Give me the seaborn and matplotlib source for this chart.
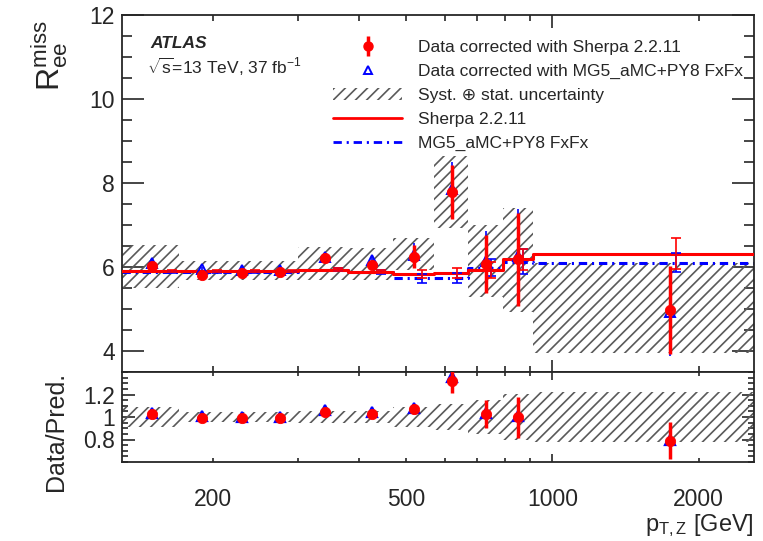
import numpy as np
import matplotlib
matplotlib.use("Agg")
import matplotlib.pyplot as plt
import seaborn as sns
from matplotlib.lines import Line2D
from matplotlib.patches import Patch
from matplotlib.ticker import FixedLocator, FixedFormatter, MultipleLocator, NullFormatter

# ---------------- data ----------------
bin_edges = [130, 170, 210, 250, 300, 380, 470, 570, 670, 790, 910, 2600]
x_data = [150, 190, 230, 275, 340, 425, 520, 620, 730, 850, 1750]
x_mc = [165, 204, 244, 291, 362, 444, 538, 636, 748, 869, 1800]

data_sherpa = [6.03, 5.81, 5.85, 5.87, 6.21, 6.05, 6.25, 7.79, 6.07, 6.18, 4.97]
data_sherpa_err = [0.08, 0.06, 0.06, 0.06, 0.08, 0.10, 0.28, 0.64, 0.70, 1.10, 1.05]
data_mg5 = [6.10, 5.95, 5.93, 5.94, 6.25, 6.17, 6.28, 7.85, 6.15, 6.27, 4.92]
data_mg5_err = [0.08, 0.06, 0.06, 0.06, 0.08, 0.10, 0.28, 0.64, 0.70, 1.10, 1.05]

pred_sherpa = [5.91, 5.91, 5.91, 5.91, 5.94, 5.89, 5.83, 5.85, 5.93, 6.19, 6.32]
pred_sherpa_err = [0.02, 0.02, 0.02, 0.02, 0.03, 0.04, 0.10, 0.12, 0.20, 0.25, 0.37]
pred_mg5 = [5.88, 5.88, 5.88, 5.89, 5.94, 5.88, 5.73, 5.74, 5.98, 6.13, 6.10]
pred_mg5_err = [0.02, 0.02, 0.02, 0.02, 0.03, 0.05, 0.10, 0.12, 0.20, 0.30, 0.23]

unc_lo = [5.49, 5.70, 5.70, 5.70, 5.69, 5.69, 5.93, 6.94, 5.29, 4.94, 3.95]
unc_hi = [6.52, 6.14, 6.14, 6.14, 6.48, 6.45, 6.69, 8.64, 7.00, 7.40, 6.10]

ratio_unc = [0.088, 0.045, 0.045, 0.045, 0.052, 0.052, 0.088, 0.117, 0.155, 0.205, 0.218]
ratio_sherpa = [1.026, 0.990, 0.990, 0.990, 1.047, 1.026, 1.070, 1.320, 1.026, 0.997, 0.790]
ratio_sherpa_err = [0.012, 0.010, 0.010, 0.010, 0.014, 0.017, 0.040, 0.110, 0.125, 0.180, 0.165]
ratio_mg5 = [1.038, 1.005, 1.003, 1.003, 1.058, 1.045, 1.080, 1.360, 1.035, 1.010, 0.800]

legend_labels = ["Data corrected with Sherpa 2.2.11",
                 "Data corrected with MG5_aMC+PY8 FxFx",
                 "Syst. \u2295 stat. uncertainty",
                 "Sherpa 2.2.11",
                 "MG5_aMC+PY8 FxFx"]
xtick_major = [1000]
xtick_minor = [200, 300, 400, 500, 600, 700, 800, 900, 2000]
xtick_minor_labels = ["200", "", "", "500", "", "", "", "", "2000"]

# ---------------- style ----------------
sns.set_theme(style="ticks")
plt.rcParams.update({
    "font.family": ["Liberation Sans", "DejaVu Sans"],
    "mathtext.fontset": "custom",
    "mathtext.rm": "Liberation Sans",
    "mathtext.it": "Liberation Sans:italic",
    "mathtext.bf": "Liberation Sans:bold",
    "hatch.linewidth": 1.2,
    "axes.linewidth": 1.3,
    "lines.scale_dashes": False,
    "xtick.direction": "in",
    "ytick.direction": "in",
})

RED = "#ff0000"
BLUE = "#0000ff"
HATCH = "#5a5a5a"
DASHDOT = (0, (6, 3.5, 1.5, 3.5))

fig = plt.figure(figsize=(7.63, 5.41), dpi=100)
W, H = 763.0, 541.0
ax = fig.add_axes([122 / W, 1 - 372 / H, 632 / W, 357 / H])
rx = fig.add_axes([122 / W, 1 - 462 / H, 632 / W, 90 / H], sharex=ax)

edges = np.array(bin_edges, dtype=float)

# ---------------- upper panel ----------------
ax.fill_between(edges, unc_lo + [unc_lo[-1]], unc_hi + [unc_hi[-1]], step="post",
                facecolor="none", edgecolor=HATCH, linewidth=0, hatch="///", zorder=1)

sns.lineplot(x=edges, y=pred_sherpa + [pred_sherpa[-1]], drawstyle="steps-post",
             color=RED, linewidth=2.2, ax=ax, estimator=None, sort=False, legend=False, zorder=3)
sns.lineplot(x=edges, y=pred_mg5 + [pred_mg5[-1]], drawstyle="steps-post",
             color=BLUE, linewidth=2.2, linestyle=DASHDOT, ax=ax, estimator=None, sort=False,
             legend=False, zorder=2)

ax.errorbar(x_mc, pred_mg5, yerr=pred_mg5_err, fmt="none", ecolor=BLUE, elinewidth=1.2,
            capsize=3.5, capthick=1.2, zorder=3)
ax.errorbar(x_mc, pred_sherpa, yerr=pred_sherpa_err, fmt="none", ecolor=RED, elinewidth=1.2,
            capsize=3.5, capthick=1.2, zorder=3)

ax.errorbar(x_data, data_mg5, yerr=data_mg5_err, fmt="none", ecolor=BLUE, elinewidth=1.2, zorder=4)
ax.plot(x_data, data_mg5, ls="none", marker="^", ms=7, mfc="none", mec=BLUE, mew=1.4, zorder=4)
ax.errorbar(x_data, data_sherpa, yerr=data_sherpa_err, fmt="none", ecolor=RED, elinewidth=2.5, zorder=5)
sns.scatterplot(x=x_data, y=data_sherpa, color=RED, edgecolor=RED, s=55, marker="o",
                ax=ax, zorder=6, legend=False)

ax.set_xscale("log")
ax.set_xlim(130, 2600)
ax.set_ylim(3.5, 12)
ax.yaxis.set_major_locator(MultipleLocator(2))
ax.yaxis.set_minor_locator(MultipleLocator(0.5))
ax.xaxis.set_major_locator(FixedLocator(xtick_major))
ax.xaxis.set_minor_locator(FixedLocator(xtick_minor))
ax.tick_params(axis="both", which="both", top=True, right=True, labelsize=16.5)
ax.tick_params(axis="y", which="major", length=15.5, width=1.2, pad=5)
ax.tick_params(axis="y", which="minor", length=7.5, width=1.2)
ax.tick_params(axis="x", which="major", length=9, width=1.2)
ax.tick_params(axis="x", which="minor", length=4.5, width=1.2)
ax.tick_params(axis="x", which="both", labelbottom=False)
ax.set_xlabel("")
ax.set_ylabel(r"$\mathrm{R}_{\mathrm{ee}}^{\mathrm{miss}}$", fontsize=23, loc="top")
ax.yaxis.set_label_coords(-0.082, 0.985)

ax.text(150 / W, 1 - 44 / H, "ATLAS", transform=fig.transFigure, fontsize=12.5,
        fontweight="bold", fontstyle="italic", va="center", ha="left")
ax.text(147 / W, 1 - 67 / H, r"$\sqrt{\mathrm{s}}$=13 TeV, 37 fb$^{-1}$", transform=fig.transFigure,
        fontsize=12.5, va="center", ha="left")

h_data = (Line2D([], [], ls="none", marker="o", ms=6.5, color=RED),
          Line2D([], [], ls="none", marker="|", ms=14, mew=2.5, color=RED))
h_mg5 = Line2D([], [], ls="none", marker="^", ms=6, mfc="none", mec=BLUE, mew=1.4)
h_unc = Patch(facecolor="none", edgecolor=HATCH, linewidth=0, hatch="///")
h_sh = Line2D([], [], color=RED, lw=2)
h_mg = Line2D([], [], color=BLUE, lw=2, ls=DASHDOT)
ax.legend([h_data, h_mg5, h_unc, h_sh, h_mg], legend_labels, loc="upper left",
          bbox_to_anchor=(333 / W, 1 - 40 / H), bbox_transform=fig.transFigure,
          frameon=False, fontsize=12.5, borderpad=0, borderaxespad=0,
          handlelength=4.0, handletextpad=0.9, labelspacing=0.5)

# ---------------- ratio panel ----------------
ones = np.ones(len(ratio_unc))
r_lo = list(ones - np.array(ratio_unc))
r_hi = list(ones + np.array(ratio_unc))
rx.fill_between(edges, r_lo + [r_lo[-1]], r_hi + [r_hi[-1]], step="post",
                facecolor="none", edgecolor=HATCH, linewidth=0, hatch="///", zorder=1)
rx.plot(x_data, ratio_mg5, ls="none", marker="^", ms=7, mfc="none", mec=BLUE, mew=1.6, zorder=4)
rx.errorbar(x_data, ratio_sherpa, yerr=ratio_sherpa_err, fmt="none", ecolor=RED, elinewidth=2.5, zorder=5)
sns.scatterplot(x=x_data, y=ratio_sherpa, color=RED, edgecolor=RED, s=55, marker="o",
                ax=rx, zorder=6, legend=False)

rx.set_ylim(0.6, 1.4)
rx.yaxis.set_major_locator(FixedLocator([0.8, 1.0, 1.2]))
rx.yaxis.set_major_formatter(FixedFormatter(["0.8", "1", "1.2"]))
rx.yaxis.set_minor_locator(MultipleLocator(0.05))
rx.xaxis.set_major_locator(FixedLocator(xtick_major))
rx.xaxis.set_major_formatter(FixedFormatter(["1000"]))
rx.xaxis.set_minor_locator(FixedLocator(xtick_minor))
rx.xaxis.set_minor_formatter(FixedFormatter(xtick_minor_labels))
rx.tick_params(axis="both", which="both", top=True, right=True, labelsize=16.5)
rx.tick_params(axis="y", which="major", length=9, width=1.2, pad=5)
rx.tick_params(axis="y", which="minor", length=4.5, width=1.2)
rx.tick_params(axis="x", which="major", length=6, width=1.2, pad=19)
rx.tick_params(axis="x", which="minor", length=3, width=1.2, pad=19)
rx.set_ylabel("Data/Pred.", fontsize=18, loc="top")
rx.yaxis.set_label_coords(-0.085, 1.0)
rx.set_xlabel(r"$\mathrm{p}_{\mathrm{T,Z}}$ [GeV]", fontsize=17, loc="right")
rx.xaxis.set_label_coords(1.0, -0.555)

fig.savefig("out.png", dpi=100)
